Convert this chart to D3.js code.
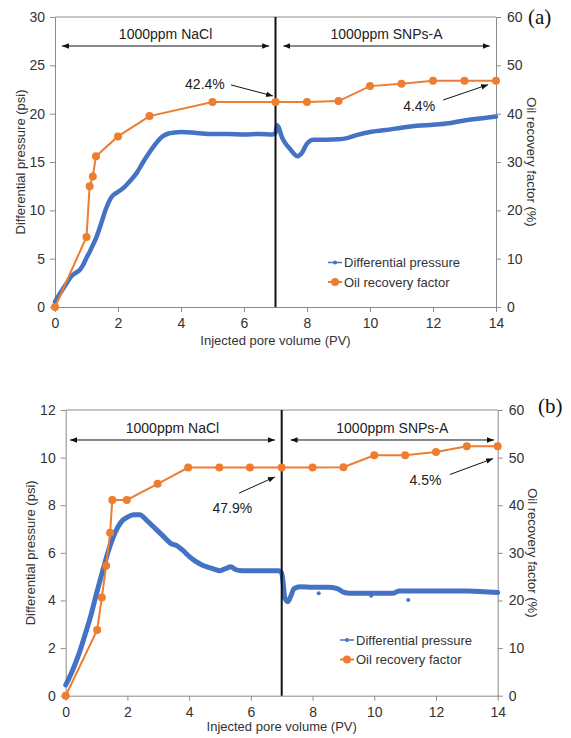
<!DOCTYPE html>
<html>
<head>
<meta charset="utf-8">
<script src="https://cdn.jsdelivr.net/npm/d3@7"></script>
<style>
  html, body { margin: 0; padding: 0; background: #fff; }
  svg { display: block; font-family: "Liberation Sans", Arial, sans-serif; }
</style>
</head>
<body>
<svg id="chart" width="571" height="738"></svg>
<script>
// ---- Panel (a): differential pressure (psi) vs injected PV ----
const pvA = [0, 0.2, 0.4, 0.5, 0.6, 0.8, 0.9, 1.0, 1.1, 1.2, 1.3, 1.4, 1.5, 1.6, 1.7, 1.8, 1.9, 2.0,
  2.2, 2.4, 2.6, 2.8, 3.0, 3.2, 3.4, 3.6, 3.8, 4.0, 4.5, 5.0, 5.5, 6.0, 6.5, 6.9, 7.0, 7.05, 7.1,
  7.2, 7.3, 7.45, 7.6, 7.7, 7.85, 8.0, 8.2, 8.6, 9.0, 9.3, 9.6, 10.0, 10.5, 11.0, 11.5, 12.0,
  12.5, 13.0, 13.5, 14.0];
const dpA = [0.55, 1.6, 2.6, 3.1, 3.4, 3.9, 4.4, 5.1, 5.7, 6.4, 7.1, 8.0, 9.0, 10.0, 10.8, 11.4, 11.7, 11.9,
  12.4, 13.1, 13.9, 15.0, 16.0, 16.9, 17.6, 17.95, 18.05, 18.1, 18.0, 17.9, 17.9, 17.85, 17.9, 17.85, 18.0, 18.8, 18.6,
  17.6, 17.0, 16.4, 15.8, 15.6, 16.0, 16.9, 17.3, 17.3, 17.35, 17.5, 17.8, 18.1, 18.3, 18.55, 18.75, 18.85,
  19.0, 19.3, 19.5, 19.7];
// Oil recovery factor (%) for panel (a)
const pvRecA = [0, 1.0, 1.1, 1.2, 1.3, 2, 3, 5, 7, 8, 9, 10, 11, 12, 13, 14];
const recA = [0, 14.5, 25.0, 27.0, 31.2, 35.3, 39.5, 42.4, 42.4, 42.4, 42.6, 45.7, 46.2, 46.8, 46.8, 46.8];

// ---- Panel (b) ----
const pvB = [0, 0.2, 0.4, 0.6, 0.8, 1.0, 1.2, 1.4, 1.6, 1.8, 2.0, 2.2, 2.4, 2.6, 2.8, 3.0, 3.2, 3.4,
  3.6, 3.8, 4.0, 4.2, 4.4, 4.6, 4.8, 5.0, 5.2, 5.35, 5.5, 5.7, 6.0, 6.5, 6.9, 7.0, 7.05, 7.1, 7.2,
  7.3, 7.4, 7.6, 8.0, 8.5, 8.8, 9.0, 9.2, 10.0, 10.6, 10.8, 12.0, 13.0, 14.0];
const dpB = [0.45, 1.0, 1.65, 2.45, 3.3, 4.3, 5.25, 6.15, 6.85, 7.3, 7.5, 7.6, 7.6, 7.4, 7.15, 6.9, 6.65, 6.4,
  6.3, 6.1, 5.85, 5.65, 5.5, 5.4, 5.32, 5.25, 5.35, 5.42, 5.3, 5.25, 5.25, 5.25, 5.25, 5.15, 4.7, 4.1, 3.95,
  4.2, 4.5, 4.58, 4.55, 4.55, 4.5, 4.35, 4.3, 4.3, 4.3, 4.4, 4.4, 4.4, 4.33];
// isolated pressure readings below the trend
const pvBOut = [1.45, 8.2, 9.9, 11.1];
const dpBOut = [6.4, 4.3, 4.2, 4.02];
const pvRecB = [0, 1.02, 1.17, 1.31, 1.44, 1.51, 1.98, 2.98, 3.97, 4.98, 5.97, 7, 8, 9, 10, 11, 12, 13, 14];
const recB = [0, 13.8, 20.6, 27.3, 34.2, 41.1, 41.1, 44.5, 47.9, 47.9, 47.9, 47.9, 47.9, 48.0, 50.5, 50.5, 51.2, 52.4, 52.4];

const xTicks = [0, 2, 4, 6, 8, 10, 12, 14];
const rightTicks = [0, 10, 20, 30, 40, 50, 60];
const leftTicksA = [0, 5, 10, 15, 20, 25, 30];
const leftTicksB = [0, 2, 4, 6, 8, 10, 12];
const legendLabels = ["Differential pressure", "Oil recovery factor"];
const stageLabels = ["1000ppm NaCl", "1000ppm SNPs-A"];
const xTitle = "Injected pore volume (PV)";
const yTitleLeft = "Differential pressure (psi)";
const yTitleRight = "Oil recovery factor (%)";

const BLUE = "#4472C4", ORANGE = "#ED7D31", AXIS = "#8c8c8c", TXT = "#333";
const svg = d3.select("#chart");

const defs = svg.append("defs");
defs.append("marker").attr("id", "ah").attr("viewBox", "0 0 10 10")
  .attr("refX", 10).attr("refY", 5).attr("markerWidth", 7).attr("markerHeight", 7)
  .attr("markerUnits", "userSpaceOnUse").attr("orient", "auto-start-reverse")
  .append("path").attr("d", "M0,1 L10,5 L0,9 Z").attr("fill", "#111");

function panel(cfg) {
  const x = d3.scaleLinear().domain([0, 14]).range([cfg.left, cfg.right]);
  const yL = d3.scaleLinear().domain([0, cfg.yMax]).range([cfg.bottom, cfg.top]);
  const yR = d3.scaleLinear().domain([0, 60]).range([cfg.bottom, cfg.top]);
  const g = svg.append("g");

  // plot frame (top edge)
  g.append("line").attr("x1", cfg.left).attr("x2", cfg.right).attr("y1", cfg.top).attr("y2", cfg.top)
    .attr("stroke", AXIS).attr("stroke-width", 1);

  const styleAxis = sel => {
    sel.selectAll("path, line").attr("stroke", AXIS);
    sel.selectAll("text").attr("fill", TXT).attr("font-size", 14)
      .attr("font-family", "Liberation Sans, Arial, sans-serif");
    sel.select(".domain").attr("stroke-width", 1);
  };
  g.append("g").attr("transform", `translate(0,${cfg.bottom})`)
    .call(d3.axisBottom(x).tickValues(xTicks).tickSize(5).tickPadding(6).tickSizeOuter(0)).call(styleAxis);
  g.append("g").attr("transform", `translate(${cfg.left},0)`)
    .call(d3.axisLeft(yL).tickValues(cfg.leftTicks).tickSize(5).tickPadding(5).tickSizeOuter(0)).call(styleAxis);
  g.append("g").attr("transform", `translate(${cfg.right},0)`)
    .call(d3.axisRight(yR).tickValues(rightTicks).tickSize(5).tickPadding(6).tickSizeOuter(0)).call(styleAxis);

  // axis titles
  const midY = (cfg.top + cfg.bottom) / 2;
  g.append("text").attr("x", (cfg.left + cfg.right) / 2).attr("y", cfg.xTitleY)
    .attr("text-anchor", "middle").attr("font-size", 13).attr("fill", TXT).text(xTitle);
  g.append("text").attr("transform", `translate(${cfg.leftTitleX},${midY}) rotate(-90)`)
    .attr("text-anchor", "middle").attr("dy", "0.35em").attr("font-size", 13).attr("fill", TXT).text(yTitleLeft);
  g.append("text").attr("transform", `translate(${cfg.rightTitleX},${midY}) rotate(90)`)
    .attr("text-anchor", "middle").attr("dy", "0.35em").attr("font-size", 13).attr("fill", TXT).text(yTitleRight);

  // differential pressure trace
  const dpPts = cfg.pv.map((p, i) => [p, cfg.dp[i]]);
  g.append("path").datum(dpPts)
    .attr("d", d3.line().x(d => x(d[0])).y(d => yL(d[1])).curve(d3.curveMonotoneX))
    .attr("fill", "none").attr("stroke", BLUE).attr("stroke-width", cfg.blueWidth)
    .attr("stroke-linejoin", "round").attr("stroke-linecap", "round");
  if (cfg.pvOut) {
    g.selectAll(null).data(cfg.pvOut.map((p, i) => [p, cfg.dpOut[i]])).join("circle")
      .attr("cx", d => x(d[0])).attr("cy", d => yL(d[1])).attr("r", 2).attr("fill", BLUE);
  }

  // injection switch at 7 PV
  g.append("line").attr("x1", x(7)).attr("x2", x(7)).attr("y1", cfg.top).attr("y2", cfg.bottom)
    .attr("stroke", "#111").attr("stroke-width", 2);

  // oil recovery factor
  const recPts = cfg.pvRec.map((p, i) => [p, cfg.rec[i]]);
  g.append("path").datum(recPts)
    .attr("d", d3.line().x(d => x(d[0])).y(d => yR(d[1])))
    .attr("fill", "none").attr("stroke", ORANGE).attr("stroke-width", 2);
  g.selectAll(null).data(recPts).join("circle")
    .attr("cx", d => x(d[0])).attr("cy", d => yR(d[1])).attr("r", 4).attr("fill", ORANGE);

  // stage labels with double-headed arrows
  cfg.stages.forEach((s, i) => {
    g.append("line").attr("x1", x(s.x0)).attr("x2", x(s.x1)).attr("y1", yL(s.ay)).attr("y2", yL(s.ay))
      .attr("stroke", "#111").attr("stroke-width", 1)
      .attr("marker-start", "url(#ah)").attr("marker-end", "url(#ah)");
    g.append("text").attr("x", x((s.x0 + s.x1) / 2)).attr("y", yL(s.ty))
      .attr("text-anchor", "middle").attr("font-size", 14).attr("fill", "#222").text(stageLabels[i]);
  });

  // recovery increment callouts
  cfg.callouts.forEach(c => {
    g.append("text").attr("x", x(c.tx)).attr("y", yL(c.ty)).attr("text-anchor", "middle")
      .attr("font-size", 14).attr("fill", "#222").text(c.label);
    g.append("line").attr("x1", x(c.x0)).attr("y1", yL(c.y0)).attr("x2", x(c.x1)).attr("y2", yL(c.y1))
      .attr("stroke", "#111").attr("stroke-width", 1).attr("marker-end", "url(#ah)");
  });

  // legend
  const lg = g.append("g");
  [0, 1].forEach(i => {
    const ly = cfg.legendY + i * 19.5;
    lg.append("line").attr("x1", cfg.legendX).attr("x2", cfg.legendX + 14).attr("y1", ly).attr("y2", ly)
      .attr("stroke", i ? ORANGE : BLUE).attr("stroke-width", i ? 2 : 1.5);
    lg.append("circle").attr("cx", cfg.legendX + 7).attr("cy", ly).attr("r", i ? 4 : 2)
      .attr("fill", i ? ORANGE : BLUE);
    lg.append("text").attr("x", cfg.legendX + 16).attr("y", ly).attr("dy", "0.35em")
      .attr("font-size", 13).attr("fill", TXT).text(legendLabels[i]);
  });

  // panel tag
  g.append("text").attr("x", cfg.tagX).attr("y", cfg.tagY)
    .attr("font-family", "Liberation Serif, Times New Roman, serif").attr("font-size", 21)
    .attr("fill", "#111").text(cfg.tag);
}

panel({
  left: 55, right: 496, top: 17, bottom: 307, yMax: 30, leftTicks: leftTicksA,
  pv: pvA, dp: dpA, pvRec: pvRecA, rec: recA, blueWidth: 4.5,
  xTitleY: 345, leftTitleX: 20, rightTitleX: 532,
  stages: [{ x0: 0.22, x1: 6.8, ay: 27.0, ty: 27.7 }, { x0: 7.25, x1: 13.8, ay: 27.0, ty: 27.7 }],
  callouts: [
    { label: "42.4%", tx: 4.76, ty: 22.55, x0: 5.59, y0: 22.97, x1: 6.92, y1: 21.83 },
    { label: "4.4%", tx: 11.56, ty: 20.28, x0: 12.32, y0: 21.41, x1: 13.75, y1: 23.0 }
  ],
  legendX: 328, legendY: 262.5, tag: "(a)", tagX: 528, tagY: 24
});

panel({
  left: 65.7, right: 497.7, top: 410, bottom: 695.7, yMax: 12, leftTicks: leftTicksB,
  pv: pvB, dp: dpB, pvOut: pvBOut, dpOut: dpBOut, pvRec: pvRecB, rec: recB, blueWidth: 5,
  xTitleY: 731, leftTitleX: 30, rightTitleX: 533,
  stages: [{ x0: 0.14, x1: 6.78, ay: 10.74, ty: 11.05 }, { x0: 7.29, x1: 13.88, ay: 10.74, ty: 11.05 }],
  callouts: [
    { label: "47.9%", tx: 5.4, ty: 7.67, x0: 5.62, y0: 8.51, x1: 6.78, y1: 9.19 },
    { label: "4.5%", tx: 11.66, ty: 8.85, x0: 12.45, y0: 9.29, x1: 13.85, y1: 9.96 }
  ],
  legendX: 340, legendY: 640, tag: "(b)", tagX: 538, tagY: 413
});
</script>
</body>
</html>
